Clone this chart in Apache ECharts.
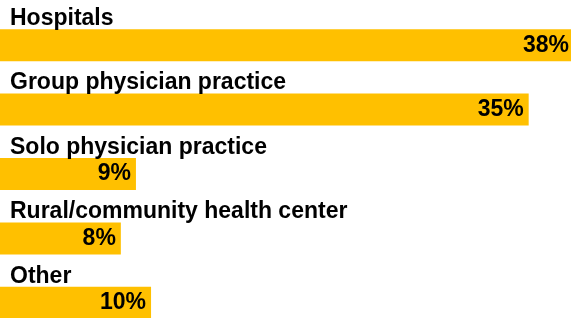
<!DOCTYPE html>
<html>
<head>
<meta charset="utf-8">
<script src="https://cdn.jsdelivr.net/npm/echarts@6/dist/echarts.min.js"></script>
<style>
  html, body { margin: 0; padding: 0; background: #fff; }
  #chart { width: 571px; height: 318px; }
</style>
</head>
<body>
<div id="chart"></div>
<script>
// categories and their shares (%)
const categories = ['Hospitals', 'Group physician practice', 'Solo physician practice', 'Rural/community health center', 'Other']
const shares = [38, 35, 9, 8, 10]

const myChart = echarts.init(document.getElementById('chart'))

const options = {
  animation: false,
  textStyle: {
    fontFamily: '"Liberation Sans", Arial, sans-serif'
  },
  grid: {
    left: 0,
    top: 13,
    width: 574,
    height: 322,
    outerBoundsMode: 'none'
  },
  xAxis: {
    type: 'value',
    min: 0,
    max: 38,
    show: false
  },
  yAxis: {
    type: 'category',
    inverse: true,
    data: categories,
    axisLine: { show: false },
    axisTick: { show: false },
    splitLine: { show: false },
    axisLabel: {
      inside: true,
      margin: 10,
      color: '#000',
      fontWeight: 'bold',
      fontSize: 23,
      lineHeight: 23,
      align: 'left',
      verticalAlign: 'bottom',
      padding: [0, 0, 15, 0]
    },
    z: 10
  },
  series: [
    {
      type: 'bar',
      data: shares,
      barWidth: 32,
      itemStyle: {
        color: '#FFC000'
      },
      label: {
        show: true,
        position: 'insideRight',
        distance: 5,
        color: '#000',
        fontWeight: 'bold',
        fontSize: 23,
        formatter: '{c}%'
      }
    }
  ]
}

myChart.setOption(options)
</script>
</body>
</html>
